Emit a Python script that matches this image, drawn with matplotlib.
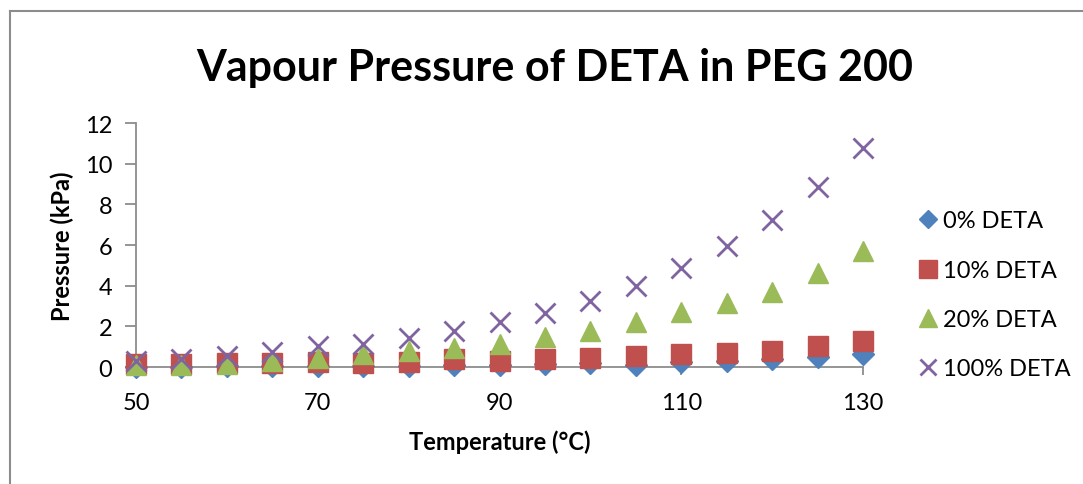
import numpy as np
import matplotlib.pyplot as plt
from matplotlib.lines import Line2D

plt.rcParams['font.family'] = ['Lato', 'DejaVu Sans']

temperature = [50, 55, 60, 65, 70, 75, 80, 85, 90, 95, 100, 105, 110, 115, 120, 125, 130]

p_0 = [0.02, 0.02, 0.03, 0.04, 0.05, 0.06, 0.07, 0.08, 0.10, 0.14, 0.18, 0.12, 0.25, 0.32, 0.40, 0.50, 0.64]
p_10 = [0.15, 0.15, 0.20, 0.20, 0.24, 0.20, 0.24, 0.37, 0.28, 0.39, 0.43, 0.52, 0.66, 0.69, 0.77, 1.02, 1.26]
p_20 = [0.12, 0.12, 0.15, 0.31, 0.44, 0.64, 0.79, 0.93, 1.11, 1.46, 1.79, 2.21, 2.69, 3.15, 3.71, 4.61, 5.72]
p_100 = [0.31, 0.38, 0.52, 0.72, 1.05, 1.13, 1.41, 1.75, 2.20, 2.64, 3.26, 3.97, 4.87, 5.97, 7.23, 8.87, 10.76]

series_names = ['0% DETA', '10% DETA', '20% DETA', '100% DETA']

fig = plt.figure(figsize=(10.83, 4.85), dpi=100)
ax = fig.add_axes([0.1256, 0.2412, 0.797 - 0.1256, 0.7443 - 0.2412])

# chart area border (only top and left edges fall inside the image)
fig.add_artist(Line2D([9.5 / 1083, 1.0], [1 - 11.5 / 485, 1 - 11.5 / 485],
                      color='#8c8c8c', lw=1.5, transform=fig.transFigure))
fig.add_artist(Line2D([9.5 / 1083, 9.5 / 1083], [0.0, 1 - 11.5 / 485],
                      color='#8c8c8c', lw=1.5, transform=fig.transFigure))

ax.plot(temperature, p_0, ls='none', marker='D', ms=11, color='#4F81BD',
        mec='#4F81BD', label=series_names[0], clip_on=False)
ax.plot(temperature, p_10, ls='none', marker='s', ms=14.5, color='#C0504D',
        mec='#C0504D', label=series_names[1], clip_on=False)
ax.plot(temperature, p_20, ls='none', marker='^', ms=15, color='#9BBB59',
        mec='#9BBB59', label=series_names[2], clip_on=False)
ax.plot(temperature, p_100, ls='none', marker='x', ms=14, mew=2, color='#8064A2',
        label=series_names[3], clip_on=False)

ax.set_xlim(50, 130)
ax.set_ylim(0, 12)
ax.set_xticks([50, 70, 90, 110, 130])
ax.set_yticks(np.arange(0, 13, 2))

for s in ['top', 'right']:
    ax.spines[s].set_visible(False)
for s in ['left', 'bottom']:
    ax.spines[s].set_color('#8c8c8c')
    ax.spines[s].set_linewidth(1.3)
    ax.spines[s].set_zorder(0.5)

ax.tick_params(axis='y', direction='out', length=8, width=1.3, color='#8c8c8c',
               labelsize=17, pad=9)
ax.tick_params(axis='x', direction='out', length=6, width=1.3, color='#8c8c8c',
               labelsize=17, pad=12)

ax.set_xlabel('Temperature (°C)', fontsize=17, fontweight='bold', labelpad=12)
ax.set_ylabel('Pressure (kPa)', fontsize=17, fontweight='bold', labelpad=8)

fig.text(0.512, 0.86, 'Vapour Pressure of DETA in PEG 200', ha='center', va='center',
         fontsize=31, fontweight='bold')

leg = ax.legend(loc='center left', bbox_to_anchor=(915 / 1083, 1 - 296 / 485),
                bbox_transform=fig.transFigure, frameon=False,
                fontsize=17, labelspacing=1.2, handletextpad=0.1, handlelength=1.1,
                markerscale=0.85, borderpad=0, borderaxespad=0)

fig.savefig('out.png', dpi=100)
